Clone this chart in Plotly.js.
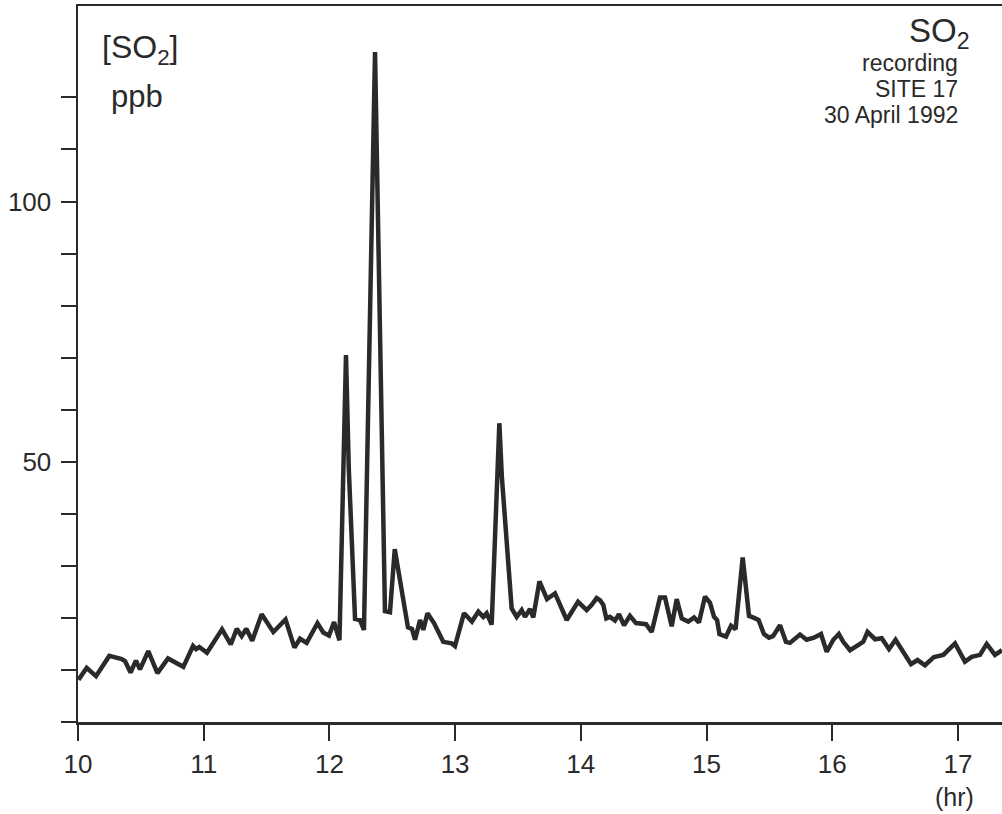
<!DOCTYPE html>
<html>
<head>
<meta charset="utf-8">
<script src="https://cdn.plot.ly/plotly-3.0.1.min.js"></script>
<style>html,body{margin:0;padding:0;background:#fff;}#chart{width:1002px;height:814px;}</style>
</head>
<body>
<div id="chart"></div>
<script>
// Time of day (hours) of each recorded point
const hours = [10.004,10.069,10.143,10.249,10.348,10.374,10.418,10.461,10.493,10.559,
10.632,10.716,10.838,10.915,10.939,10.965,11.026,11.146,11.215,11.263,
11.302,11.339,11.386,11.461,11.554,11.593,11.651,11.722,11.766,11.819,
11.905,11.951,11.997,12.037,12.080,12.132,12.154,12.204,12.243,12.275,
12.363,12.442,12.482,12.520,12.625,12.657,12.681,12.721,12.747,12.780,
12.832,12.906,12.973,12.999,13.071,13.134,13.185,13.224,13.251,13.291,
13.352,13.372,13.450,13.490,13.530,13.556,13.596,13.622,13.671,13.731,
13.795,13.888,13.978,14.047,14.087,14.126,14.153,14.179,14.203,14.232,
14.272,14.304,14.344,14.391,14.439,14.519,14.564,14.630,14.670,14.723,
14.763,14.803,14.855,14.901,14.940,14.988,15.028,15.060,15.084,15.103,
15.155,15.195,15.231,15.288,15.314,15.338,15.378,15.414,15.457,15.497,
15.529,15.585,15.632,15.664,15.744,15.797,15.855,15.911,15.956,16.009,
16.053,16.088,16.142,16.205,16.247,16.281,16.341,16.394,16.452,16.504,
16.559,16.627,16.679,16.738,16.810,16.884,16.977,17.056,17.110,17.176,
17.229,17.295,17.351];
// SO2 concentration (ppb)
const so2 = [8.1,10.4,8.8,12.7,12.1,11.7,9.5,11.8,10.1,13.6,
9.4,12.2,10.6,14.6,14.0,14.4,13.3,17.8,14.9,17.9,
16.5,17.9,15.6,20.7,17.3,18.2,19.7,14.3,16.0,15.2,
19.0,17.2,16.6,19.2,15.7,70.5,48.8,19.8,19.6,17.7,
128.7,21.3,21.1,33.2,18.2,17.9,15.8,19.6,17.7,20.9,
19.0,15.4,15.1,14.6,20.9,19.3,21.2,20.2,20.9,18.7,
57.4,47.1,21.8,20.2,21.5,20.2,21.7,20.1,27.0,23.6,
24.7,19.6,23.1,21.5,22.5,23.8,23.4,22.5,19.9,20.2,
19.5,20.7,18.6,20.4,19.0,18.8,17.3,23.9,23.9,18.4,
23.6,19.9,19.3,20.1,19.1,24.1,22.9,20.2,19.6,16.9,
16.4,18.5,17.8,31.6,25.4,20.4,20.0,19.6,16.9,16.2,
16.5,18.6,15.4,15.2,16.8,15.8,16.2,16.9,13.5,15.8,
16.9,15.4,13.8,14.8,15.4,17.3,15.9,16.1,14.0,15.8,
13.6,11.1,11.9,10.9,12.5,12.9,15.1,11.6,12.5,12.9,
15.0,12.9,13.8];

const xTickVals = [10,11,12,13,14,15,16,17];
const xTickText = ["10","11","12","13","14","15","16","17"];
const yTickVals = [50,100];
const yTickText = ["50","100"];
const yMinorTickVals = [0,10,20,30,40,60,70,80,90,110,120];

const ink = '#2a2a2a';
const font = 'Liberation Sans, Arial, Helvetica, sans-serif';

// layout geometry (pixels)
const W = 1002, H = 814, L = 78, R = 0, T = 6, B = 92;
const pw = W - L - R, ph = H - T - B;
const px = x => (x - L) / pw;
const py = y => (H - B - y) / ph;

const trace = {
  x: hours, y: so2, type: 'scatter', mode: 'lines',
  line: {color: ink, width: 4.5, shape: 'linear'},
  hoverinfo: 'skip', showlegend: false, cliponaxis: true
};

function ann(text, x, y, size, xanchor, yanchor) {
  return {text: text, xref: 'paper', yref: 'paper', x: px(x), y: py(y),
    xanchor: xanchor, yanchor: yanchor, showarrow: false,
    font: {family: font, size: size, color: ink}, align: xanchor === 'right' ? 'right' : 'left'};
}

const layout = {
  width: W, height: H,
  margin: {l: L, r: R, t: T, b: B, pad: 0},
  paper_bgcolor: '#ffffff', plot_bgcolor: '#ffffff',
  showlegend: false,
  xaxis: {
    range: [10, 10 + pw / 125.7],
    tickmode: 'array', tickvals: xTickVals, ticktext: xTickText,
    ticks: 'outside', ticklen: 16, tickwidth: 2, tickcolor: ink,
    showline: true, linecolor: ink, linewidth: 2.5, mirror: true,
    showgrid: false, zeroline: false,
    tickfont: {family: font, size: 26, color: ink},
    ticklabelstandoff: 1
  },
  yaxis: {
    range: [0, ph / 5.205],
    tickmode: 'array', tickvals: yTickVals, ticktext: yTickText,
    ticks: 'outside', ticklen: 15, tickwidth: 2, tickcolor: ink,
    minor: {tickmode: 'array', tickvals: yMinorTickVals, ticks: 'outside',
            ticklen: 15, tickwidth: 2, tickcolor: ink, showgrid: false},
    showline: true, linecolor: ink, linewidth: 2.5, mirror: true,
    showgrid: false, zeroline: false,
    tickfont: {family: font, size: 26, color: ink},
    ticklabelstandoff: 4
  },
  annotations: [
    ann('[SO<sub>2</sub>]', 100, 50, 32, 'left', 'middle'),
    ann('ppb', 109, 96, 31, 'left', 'middle'),
    ann('SO<sub>2</sub>', 972, 33, 33, 'right', 'middle'),
    ann('recording', 960, 63, 23, 'right', 'middle'),
    ann('SITE 17', 960, 89, 23, 'right', 'middle'),
    ann('30 April 1992', 960, 115, 23, 'right', 'middle'),
    ann('(hr)', 954, 797, 25, 'center', 'middle')
  ]
};

Plotly.newPlot('chart', [trace], layout, {displayModeBar: false, staticPlot: true});
</script>
</body>
</html>
